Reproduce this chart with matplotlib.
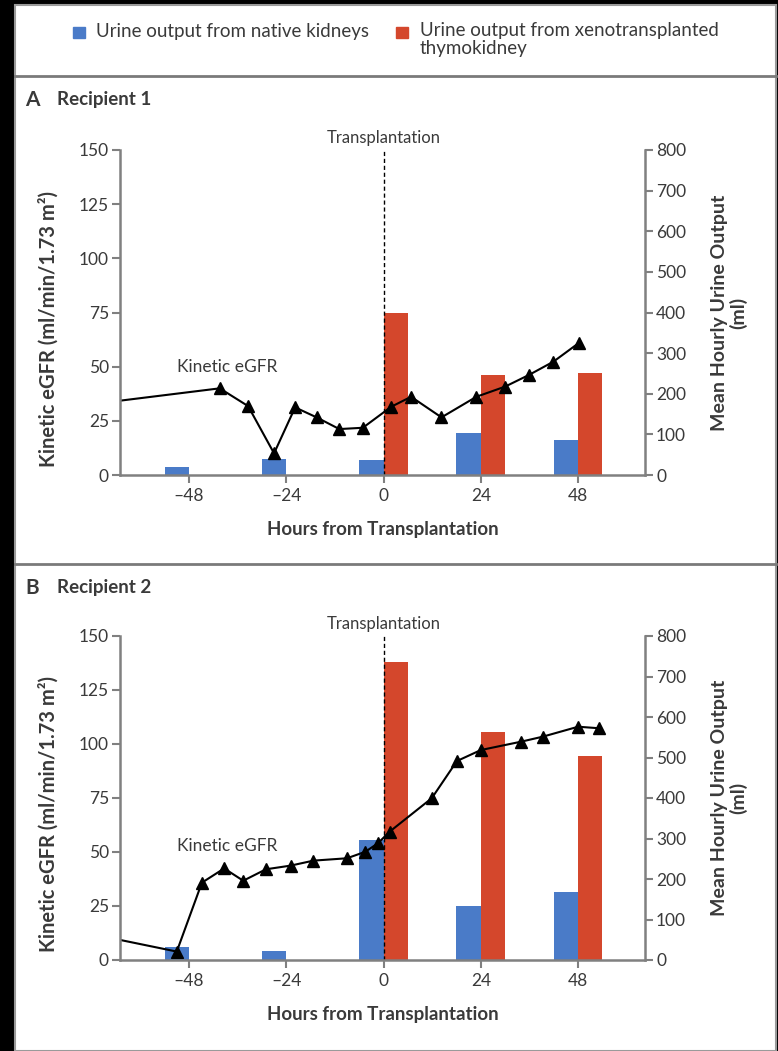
import matplotlib
matplotlib.use("Agg")
import matplotlib.pyplot as plt
from matplotlib.patches import Rectangle
from matplotlib.lines import Line2D

plt.rcParams['font.family'] = ['Lato', 'DejaVu Sans']

# datos
horas_ticks = [-48, -24, 0, 24, 48]
egfr_ticks = [0, 25, 50, 75, 100, 125, 150]
orina_ticks = [0, 100, 200, 300, 400, 500, 600, 700, 800]

nativo_centros = [-51, -27, -3, 21, 45]
xeno_centros = [3, 27, 51]

# Receptor 1
r1_horas = [-65, -40.4, -33.4, -27, -21.8, -16.5, -10.9, -5.1, 1.9, 6.8, 14.3, 22.9, 30, 35.9, 41.9, 48.3]
r1_egfr = [34.3, 40, 31.8, 10, 31.2, 26.6, 21.2, 21.8, 31.5, 36.1, 26.6, 36.1, 40.8, 46.2, 52.3, 61.1]
r1_nativo = [19, 39, 37, 103, 86]
r1_xeno = [399, 246, 250]

# Receptor 2
r2_horas = [-65, -51, -44.8, -39.3, -34.6, -29, -22.9, -17.3, -9, -4.5, -1.4, 1.5, 11.9, 18.1, 24, 34, 39.3, 48, 53.1]
r2_egfr = [9.3, 3.9, 35.8, 42.4, 36.7, 42, 43.7, 46, 47.1, 50.1, 54, 59.4, 74.9, 92.1, 97.2, 101.1, 103.4, 108, 107.3]
r2_nativo = [33, 23, 296, 133, 169]
r2_xeno = [736, 562, 504]

AZUL = '#4a7bc8'
ROJO = '#d4472c'
GRIS = '#808080'
TEXTO = '#3a3a3a'

W, H = 778, 1051


def fx(px):
    return px / W


def fy(py):
    return 1 - py / H


def panel(fig, rect, horas, egfr, nativo, xeno, etiqueta_y):
    ax = fig.add_axes(rect)
    ax2 = ax.twinx()
    ax2.bar(nativo_centros, nativo, width=6, color=AZUL)
    ax2.bar(xeno_centros, xeno, width=6, color=ROJO)
    ax.set_zorder(ax2.get_zorder() + 1)
    ax.patch.set_visible(False)

    ax.plot(horas, egfr, color='black', lw=1.5, marker='^', ms=8.5,
            markevery=list(range(1, len(horas))), clip_on=True)
    ax.axvline(0, color='black', lw=1, ls=(0, (3, 2)))
    ax.text(0, 152, 'Transplantation', ha='center', va='bottom', fontsize=12, color=TEXTO)
    ax.text(-38.5, etiqueta_y, 'Kinetic eGFR', ha='center', va='center', fontsize=12.5, color=TEXTO)

    ax.set_xlim(-65, 64.5)
    ax.set_ylim(0, 150)
    ax2.set_ylim(0, 800)
    ax.set_xticks(horas_ticks)
    ax.set_xticklabels(['\u201348', '\u201324', '0', '24', '48'])
    ax.set_yticks(egfr_ticks)
    ax2.set_yticks(orina_ticks)

    for a in (ax, ax2):
        for s in a.spines.values():
            s.set_visible(False)
        a.tick_params(colors=GRIS, labelcolor=TEXTO, labelsize=12.5, width=1.5, length=6, direction='out')
    ax.spines['left'].set_visible(True)
    ax.spines['bottom'].set_visible(True)
    ax2.spines['right'].set_visible(True)
    for s in (ax.spines['left'], ax.spines['bottom'], ax2.spines['right']):
        s.set_color(GRIS)
        s.set_linewidth(1.8)
    ax.tick_params(axis='y', pad=2)
    ax2.tick_params(axis='y', pad=2)

    ax.set_xlabel('Hours from Transplantation', fontsize=13.5, fontweight='bold', color=TEXTO, labelpad=12)
    ax.set_ylabel('Kinetic eGFR (ml/min/1.73 m\u00b2)', fontsize=14.5, fontweight='bold', color=TEXTO,
                  va='center')
    ax.yaxis.set_label_coords(-0.137, 0.45)
    ax2.set_ylabel('Mean Hourly Urine Output\n(ml)', fontsize=14, fontweight='bold', color=TEXTO,
                   linespacing=1.05, va='center')
    ax2.yaxis.set_label_coords(1.16, 0.5)
    return ax


fig = plt.figure(figsize=(W / 100, H / 100), dpi=100, facecolor='black')

# marco blanco y separadores (detras de los ejes)
fig.patches.append(Rectangle((fx(15), 0), fx(761), 1 - 5 / H, transform=fig.transFigure,
                             facecolor='white', edgecolor='#9a9a9a', lw=1.5, zorder=-10))
for yy in (76, 564):
    fig.lines.append(Line2D([fx(15), fx(776)], [fy(yy), fy(yy)], transform=fig.transFigure,
                            color='#7a7a7a', lw=2, zorder=-5))

# leyenda
fig.patches.append(Rectangle((fx(73), fy(38)), fx(12), 11 / H, transform=fig.transFigure, color=AZUL))
fig.text(fx(96), fy(32), 'Urine output from native kidneys', fontsize=13.5, color=TEXTO, va='center')
fig.patches.append(Rectangle((fx(396), fy(38)), fx(12), 11 / H, transform=fig.transFigure, color=ROJO))
fig.text(fx(420), fy(22), 'Urine output from xenotransplanted\nthymokidney', fontsize=13.5,
         color=TEXTO, va='top', linespacing=1.1)

# titulos de panel
fig.text(fx(25), fy(100), 'A', fontsize=15, fontweight='bold', color=TEXTO, va='center')
fig.text(fx(57), fy(100), 'Recipient 1', fontsize=13.5, fontweight='bold', color=TEXTO, va='center')
fig.text(fx(25), fy(588), 'B', fontsize=15, fontweight='bold', color=TEXTO, va='center')
fig.text(fx(57), fy(588), 'Recipient 2', fontsize=13.5, fontweight='bold', color=TEXTO, va='center')

panel(fig, [fx(120), fy(475), fx(525), 325 / H], r1_horas, r1_egfr, r1_nativo, r1_xeno, 50)
panel(fig, [fx(120), fy(960), fx(525), 324 / H], r2_horas, r2_egfr, r2_nativo, r2_xeno, 53)

fig.savefig('out.png', dpi=100, facecolor=fig.get_facecolor())
